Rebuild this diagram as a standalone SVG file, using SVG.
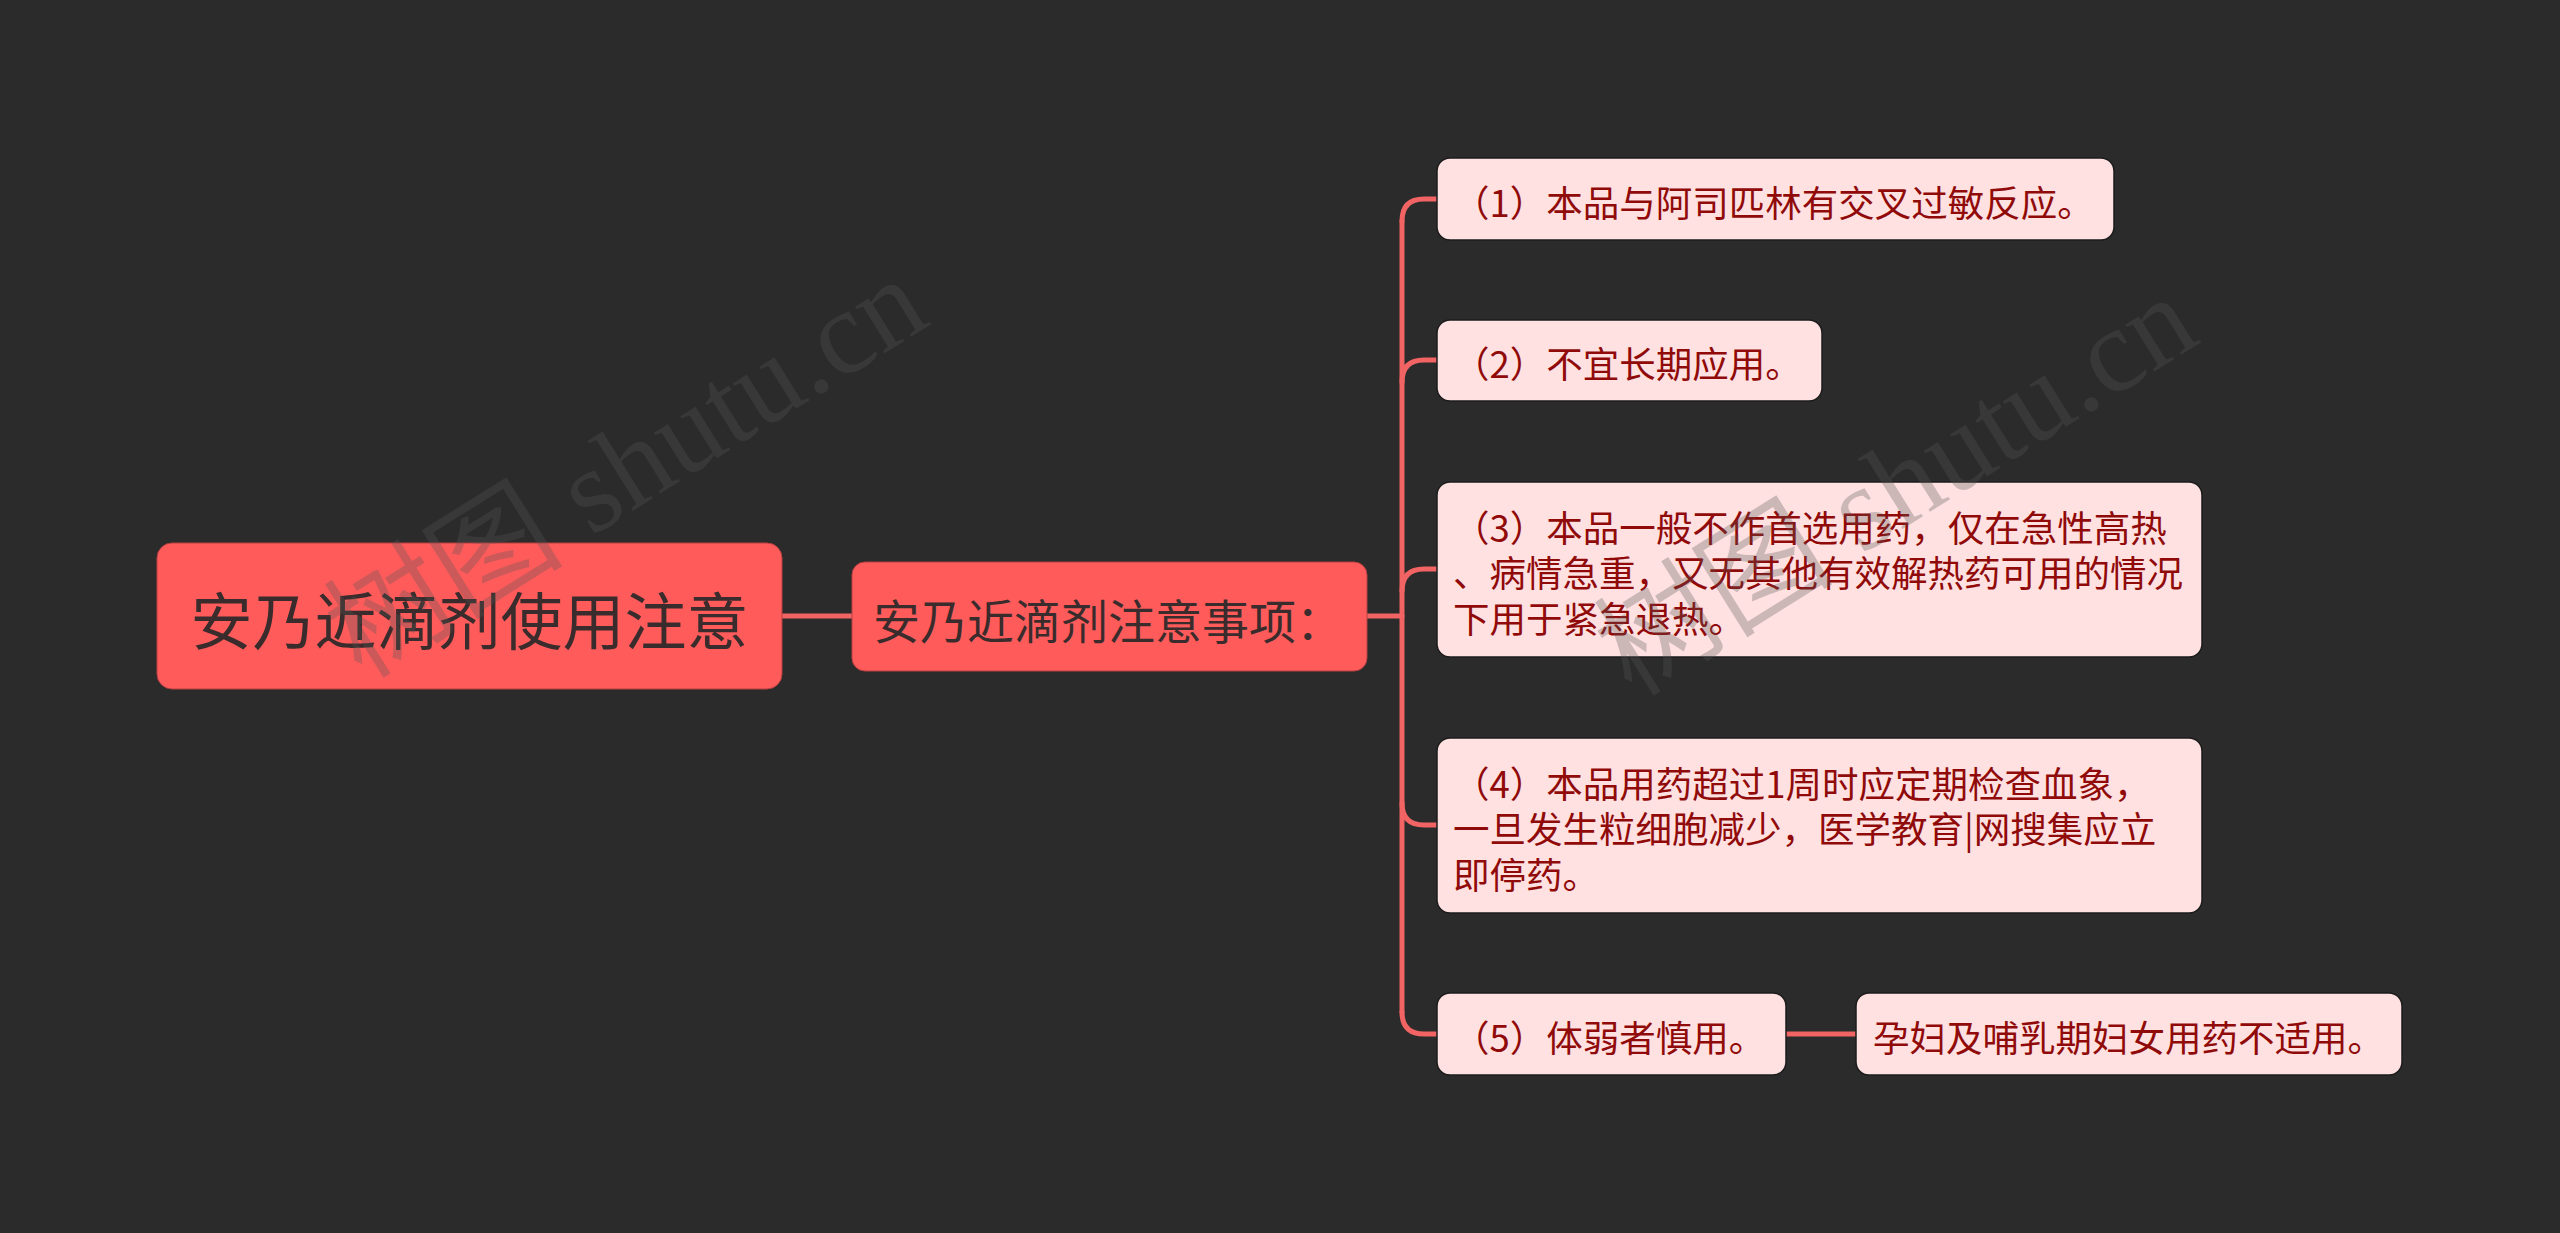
<svg xmlns="http://www.w3.org/2000/svg" width="2560" height="1233" viewBox="0 0 2560 1233">
<style>
.bg{fill:#2b2b2b}
.main{fill:#ff5b5b;stroke:#b84040;stroke-width:1}
.leaf{fill:#ffe1e1;stroke:#1c1c1c;stroke-width:1.5}
.tmain{font-family:"Noto Sans CJK SC","Noto Sans",sans-serif;fill:#3a2c2c;dominant-baseline:central}
.tleaf{font-family:"Noto Sans CJK SC","Noto Sans",sans-serif;font-size:36.5px;fill:#900a0a;dominant-baseline:central}
.conn{fill:none;stroke:#f26464;stroke-width:5;stroke-linecap:round}
.wm{font-family:"Liberation Serif","Noto Sans CJK SC",serif;font-size:120px;fill:#555;fill-opacity:0.3}
</style>
<rect class="bg" x="0" y="0" width="2560" height="1233"/>
<g id="connectors">
<path class="conn" d="M782 616 H852"/>
<path class="conn" d="M1367 616 H1402"/>
<path class="conn" d="M1402 221 V1012"/>
<path class="conn" d="M1402 221 Q1402 199 1424 199 H1437"/>
<path class="conn" d="M1402 382 Q1402 360 1424 360 H1437"/>
<path class="conn" d="M1402 591 Q1402 569 1424 569 H1437"/>
<path class="conn" d="M1402 803 Q1402 825 1424 825 H1437"/>
<path class="conn" d="M1402 1012 Q1402 1034 1424 1034 H1437"/>
<path class="conn" d="M1786 1034 H1856"/>
</g>
<g id="root">
<rect class="main" x="157" y="543" width="625" height="146" rx="15"/>
<text class="tmain" x="469.5" y="618" font-size="62" text-anchor="middle">安乃近滴剂使用注意</text>
</g>
<g id="middle">
<rect class="main" x="852" y="562" width="515" height="109" rx="13"/>
<text class="tmain" x="873" y="618" font-size="47">安乃近滴剂注意事项：</text>
</g>
<g id="c1">
<rect class="leaf" x="1437" y="158" width="677" height="82" rx="13"/>
<text class="tleaf" x="1453" y="201">（1）本品与阿司匹林有交叉过敏反应。</text>
</g>
<g id="c2">
<rect class="leaf" x="1437" y="320" width="385" height="81" rx="13"/>
<text class="tleaf" x="1453" y="362">（2）不宜长期应用。</text>
</g>
<g id="c3">
<rect class="leaf" x="1437" y="482" width="765" height="175" rx="13"/>
<text class="tleaf" x="1453" y="526">（3）本品一般不作首选用药，仅在急性高热</text>
<text class="tleaf" x="1453" y="571.5">、病情急重，又无其他有效解热药可用的情况</text>
<text class="tleaf" x="1453" y="617">下用于紧急退热。</text>
</g>
<g id="c4">
<rect class="leaf" x="1437" y="738" width="765" height="175" rx="13"/>
<text class="tleaf" x="1453" y="782">（4）本品用药超过1周时应定期检查血象，</text>
<text class="tleaf" x="1453" y="827.5">一旦发生粒细胞减少，医学教育|网搜集应立</text>
<text class="tleaf" x="1453" y="873">即停药。</text>
</g>
<g id="c5">
<rect class="leaf" x="1437" y="993" width="349" height="82" rx="13"/>
<text class="tleaf" x="1453" y="1036">（5）体弱者慎用。</text>
</g>
<g id="c6">
<rect class="leaf" x="1856" y="993" width="546" height="82" rx="13"/>
<text class="tleaf" x="1873" y="1036">孕妇及哺乳期妇女用药不适用。</text>
</g>
<g id="watermark">
<text class="wm" transform="translate(362 680) rotate(-32)">树图 shutu.cn</text>
<text class="wm" transform="translate(1632 698) rotate(-32)">树图 shutu.cn</text>
</g>
</svg>
